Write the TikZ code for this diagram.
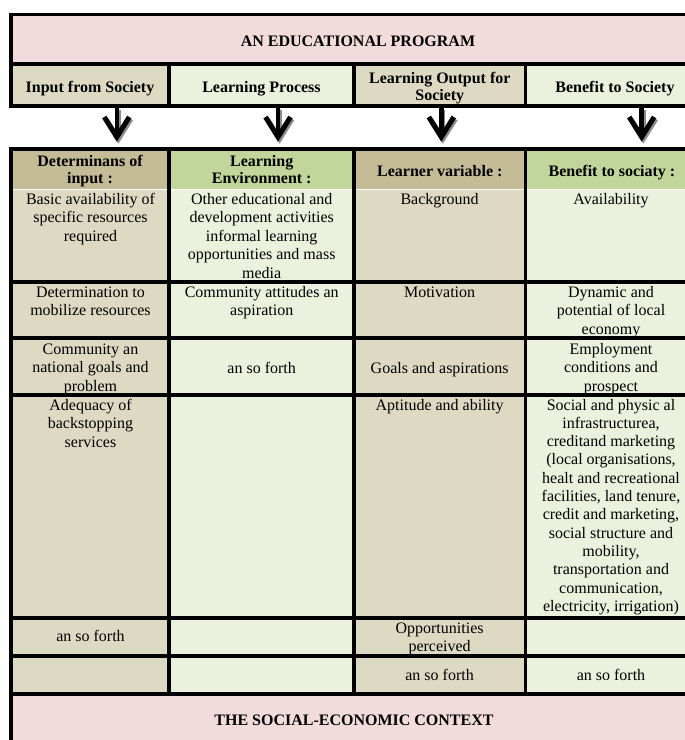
\documentclass[tikz,border=0pt]{standalone}
\usepackage{fontspec}
\setmainfont{Liberation Serif}
\definecolor{pinkbg}{HTML}{F2DBDB}
\definecolor{tanlt}{HTML}{DDD9C3}
\definecolor{tandk}{HTML}{C4BC96}
\definecolor{grnlt}{HTML}{EAF1DD}
\definecolor{grndk}{HTML}{C2D69B}
\definecolor{shadowgray}{HTML}{8C8C8C}
\newcommand\bodyfs{\fontsize{16}{18.5}\selectfont}
\newcommand\hdrfs{\fontsize{16}{17}\selectfont}
\newcommand\hdrfsb{\fontsize{16}{16.5}\selectfont}
\begin{document}
\begin{tikzpicture}[x=1pt,y=-1pt,
  gridline/.style={line width=3.3pt, black, line cap=rect},
  txt/.style={anchor=north, align=center, inner sep=0pt, font=\bodyfs},
  btxt/.style={anchor=north, align=center, inner sep=0pt, font=\bodyfs\bfseries},
  arrshaft/.style={line width=4.6pt, black},
  arrhead/.style={line width=5pt, black, line join=miter, miter limit=10},
  shadowc/.style={shadowgray}
]
\useasboundingbox (0,0) rectangle (685,740);

% ---- fills
\fill[pinkbg] (11,14.5) rectangle (705,64);
\fill[tanlt] (11,64) rectangle (169,106);
\fill[grnlt] (169,64) rectangle (354,106);
\fill[tanlt] (354,64) rectangle (525.5,106);
\fill[grnlt] (525.5,64) rectangle (705,106);

\fill[tandk] (11,149) rectangle (169,189);
\fill[grndk] (169,149) rectangle (354,189);
\fill[tandk] (354,149) rectangle (525.5,189);
\fill[grndk] (525.5,149) rectangle (705,189);
\fill[tanlt] (11,189) rectangle (169,694);
\fill[grnlt] (169,189) rectangle (354,694);
\fill[tanlt] (354,189) rectangle (525.5,694);
\fill[grnlt] (525.5,189) rectangle (705,694);
\fill[pinkbg] (11,694) rectangle (705,750);
\draw[white, line width=0.7pt] (13,189.4) -- (705,189.4);

% ---- grid lines
\draw[gridline] (11,14.5) -- (705,14.5);
\draw[gridline] (11,64) -- (705,64);
\draw[gridline] (11,106) -- (705,106);
\draw[gridline] (11,14.5) -- (11,106);
\foreach \x in {169,354,525.5} \draw[gridline] (\x,64) -- (\x,106);

\draw[gridline] (11,149) -- (705,149);
\foreach \y in {282,338,395,618,656,694} \draw[gridline] (11,\y) -- (705,\y);
\foreach \x in {169,354,525.5} \draw[gridline] (\x,149) -- (\x,694);
\draw[gridline] (11,149) -- (11,750);

% ---- title and header row
\node[anchor=base, inner sep=0pt, font=\bodyfs\bfseries] (title) at (358,46.5) {AN EDUCATIONAL PROGRAM};
\node[btxt] (h1) at (90,79.5) {\strut Input from Society};
\node[btxt] (h2) at (261.5,79.5) {\strut Learning Process};
\node[btxt, font=\hdrfsb\bfseries] (h3) at (439.8,72) {\strut Learning Output for\\Society};
\node[btxt] (h4) at (615,79.5) {\strut Benefit to Society};

% ---- arrows
\foreach \n/\x in {a1/116.8,a2/278,a3/441.3,a4/641.7}{
  \coordinate (\n-s) at (\x,107.5);
  \coordinate (\n-e) at (\x,134);
  \coordinate (\n-t) at (\x,137);
}
\foreach \n in {a1,a2,a3,a4}{
  \draw[arrshaft, shadowc] ([shift={(1.6pt,-2pt)}]\n-s) -- ([shift={(1.6pt,-2pt)}]\n-e);
  \draw[arrhead, shadowc] ([shift={(-10.9pt,18pt)}]\n-t) -- ([shift={(1.6pt,-2pt)}]\n-t) -- ([shift={(14.1pt,18pt)}]\n-t);
  \draw[arrshaft] (\n-s) -- (\n-e);
  \draw[arrhead] ([shift={(-12.5pt,20pt)}]\n-t) -- (\n-t) -- ([shift={(12.5pt,20pt)}]\n-t);
}

% ---- table header
\node[btxt, font=\hdrfs\bfseries] (t1) at (90,154.6) {\strut Determinans of\\input :};
\node[btxt, font=\hdrfs\bfseries] (t2) at (261.7,154.2) {\strut Learning\\Environment :};
\node[btxt] (t3) at (439.8,163.5) {\strut Learner variable :};
\node[btxt] (t4) at (612,163.5) {\strut Benefit to sociaty :};

% ---- row 1
\node[txt] (c11) at (90.5,191) {\strut Basic availability of\\specific resources\\required};
\node[txt] (c12) at (261.7,191) {\strut Other educational and\\development activities\\informal learning\\opportunities and mass\\media};
\node[txt] (c13) at (439.6,191) {\strut Background};
\node[txt] (c14) at (611,191) {\strut Availability};

% ---- row 2
\node[txt] (c21) at (90.5,284) {\strut Determination to\\mobilize resources};
\node[txt] (c22) at (261.7,284) {\strut Community attitudes an\\aspiration};
\node[txt] (c23) at (439.6,284) {\strut Motivation};
\node[txt] (c24) at (611,284) {\strut Dynamic and\\potential of local\\economy};

% ---- row 3
\node[txt] (c31) at (90.5,341) {\strut Community an\\national goals and\\problem};
\node[txt] (c32) at (261.7,360) {\strut an so forth};
\node[txt] (c33) at (439.6,360) {\strut Goals and aspirations};
\node[txt] (c34) at (611,341) {\strut Employment\\conditions and\\prospect};

% ---- row 4
\node[txt] (c41) at (90.5,397) {\strut Adequacy of\\backstopping\\services};
\node[txt] (c43) at (439.6,397) {\strut Aptitude and ability};
\node[txt, font=\fontsize{16}{18.3}\selectfont] (c44) at (611,397) {\strut Social and physic al\\infrastructurea,\\creditand marketing\\(local organisations,\\healt and recreational\\facilities, land tenure,\\credit and marketing,\\social structure and\\mobility,\\transportation and\\communication,\\electricity, irrigation)};

% ---- row 5
\node[txt] (c51) at (90.5,628.5) {\strut an so forth};
\node[txt] (c53) at (439.6,620) {\strut Opportunities\\perceived};

% ---- row 6
\node[txt] (c63) at (439.6,667) {\strut an so forth};
\node[txt] (c64) at (611,667) {\strut an so forth};

% ---- bottom band
\node[anchor=base, inner sep=0pt, font=\bodyfs\bfseries] (context) at (354,725.5) {THE SOCIAL-ECONOMIC CONTEXT};
\end{tikzpicture}
\end{document}
